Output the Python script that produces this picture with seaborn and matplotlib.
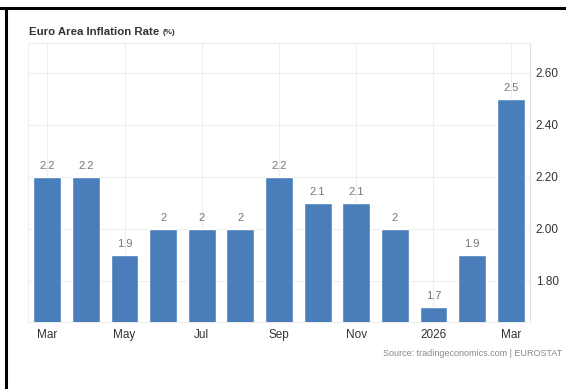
import matplotlib
matplotlib.use("Agg")
import matplotlib.pyplot as plt
import seaborn as sns
import pandas as pd
from matplotlib.lines import Line2D
from matplotlib.transforms import offset_copy

months = ["Mar", "Apr", "May", "Jun", "Jul", "Aug", "Sep", "Oct", "Nov", "Dec", "Jan", "Feb", "Mar "]
values = [2.2, 2.2, 1.9, 2.0, 2.0, 2.0, 2.2, 2.1, 2.1, 2.0, 1.7, 1.9, 2.5]
tick_labels = ["Mar", "May", "Jul", "Sep", "Nov", "2026", "Mar"]
y_ticks = [1.80, 2.00, 2.20, 2.40, 2.60]

sns.set_theme(style="white")
plt.rcParams['font.family'] = ['Liberation Sans', 'DejaVu Sans']

df = pd.DataFrame({"month": months, "value": values})

fig = plt.figure(figsize=(5.66, 3.89), dpi=100)
ax = fig.add_axes([28/566, 1 - 322/389, (530 - 28)/566, (322 - 43)/389])

bar_color = "#4a7ebb"
sns.barplot(data=df, x="month", y="value", color=bar_color, saturation=1,
            width=0.72, ax=ax, zorder=3)

ax.set_xlim(-0.5, 12.5)
ax.set_ylim(1.642, 2.715)

for c in ax.containers:
    ax.bar_label(c, labels=[f"{v:g}" for v in values], padding=4,
                 fontsize=8, color="#777777")

ax.set_xticks(list(range(0, 13, 2)))
ax.set_xticklabels(tick_labels)
ax.yaxis.tick_right()
ax.set_yticks(y_ticks)
ax.set_yticklabels([f"{t:.2f}" for t in y_ticks])
ax.tick_params(axis="x", length=0, pad=5, labelsize=8.5, labelcolor="#333333")
ax.tick_params(axis="y", length=0, pad=4, labelsize=8.5, labelcolor="#333333")
ax.set_xlabel("")
ax.set_ylabel("")

ax.grid(True, axis="both", color="#eeeeee", linewidth=0.8, zorder=0)
ax.set_axisbelow(True)
for side in ["left", "top", "bottom"]:
    ax.spines[side].set_color("#eeeeee")
    ax.spines[side].set_linewidth(0.8)
ax.spines["right"].set_color("#e0e0e0")
ax.spines["right"].set_linewidth(0.8)

title = fig.text(29/566, 1 - 32/389, "Euro Area Inflation Rate", fontsize=8.2, fontweight="bold",
                 color="#333333", va="center", ha="left")
fig.canvas.draw()
bb = title.get_window_extent(renderer=fig.canvas.get_renderer())
fig.text((bb.x1 + 3) / fig.bbox.width, 1 - 33/389, "(%)", fontsize=5.8, fontweight="bold",
         color="#333333", va="center", ha="left")
fig.text(562/566, 1 - 353/389, "Source: tradingeconomics.com | EUROSTAT", fontsize=6.5,
         color="#888888", va="center", ha="right")

# screenshot border (top and left)
fig.add_artist(Line2D([0, 1], [1 - 8/389, 1 - 8/389], transform=fig.transFigure,
                      color="black", linewidth=2.2))
fig.add_artist(Line2D([6/566, 6/566], [0, 1 - 8/389], transform=fig.transFigure,
                      color="black", linewidth=2.2))

fig.savefig("out.png", dpi=100, facecolor="white")
